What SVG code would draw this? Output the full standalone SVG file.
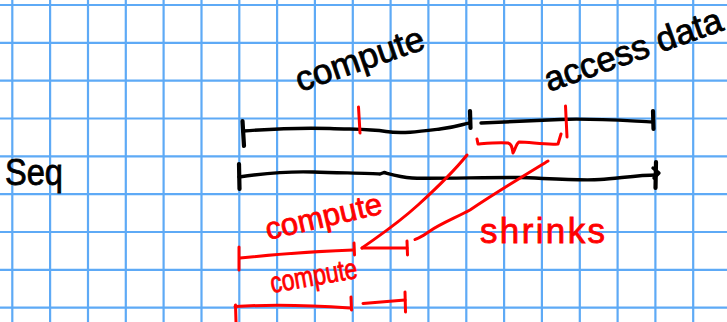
<svg xmlns="http://www.w3.org/2000/svg" width="727" height="322" viewBox="0 0 727 322">
<style>
.grid{stroke:#5eaaf6;stroke-width:2.2;fill:none}
.blk{stroke:#000;stroke-width:3.4;fill:none;stroke-linecap:round;stroke-linejoin:round}
.tick{stroke:#000;stroke-width:4.2;fill:none;stroke-linecap:round}
.red{stroke:#ff0000;stroke-width:3;fill:none;stroke-linecap:round;stroke-linejoin:round}
.tb{font-family:"Liberation Sans",Arial,sans-serif;fill:#000;stroke:#000;stroke-width:0.8}
.tr{font-family:"Liberation Sans",Arial,sans-serif;fill:#ff0000;stroke:#ff0000;stroke-width:0.8}
</style>
<rect width="727" height="322" fill="#fff"/>
<g id="grid">
<path class="grid" d="M12.3,0V322M50.1,0V322M88,0V322M125.8,0V322M163.6,0V322M201.5,0V322M239.3,0V322M277.1,0V322M314.9,0V322M352.8,0V322M390.6,0V322M428.4,0V322M466.3,0V322M504.1,0V322M541.9,0V322M579.8,0V322M617.6,0V322M655.4,0V322M693.2,0V322"/>
<path class="grid" d="M0,5H727M0,42.8H727M0,80.7H727M0,118.5H727M0,156.3H727M0,194.2H727M0,232H727M0,269.8H727M0,307.6H727"/>
</g>
<g id="seq">
<text class="tb" x="5" y="185" font-size="37" textLength="58" lengthAdjust="spacingAndGlyphs">Seq</text>
</g>
<g id="bar-top">
<path class="blk" d="M243,131 C270,129 300,127.5 330,128.5 S370,129 386,131.5 S420,131.5 440,129 S462,124 470,123"/>
<path class="tick" d="M242.5,121 L244,146"/>
<path class="tick" d="M470,111 L470.5,128"/>
<path class="blk" d="M481,123 C500,122 530,121 560,119.5 S630,121 653,122"/>
<path class="tick" d="M653,111 L653.5,129"/>
<text class="tb" x="300" y="92" font-size="35" transform="rotate(-19 300 92)">compute</text>
<text class="tb" x="549" y="92" font-size="35" transform="rotate(-19.5 549 92)">access data</text>
</g>
<g id="bar-middle">
<path class="blk" d="M239,177 C260,174 285,171 313,172 S370,173 380,174 L384,172.5 C390,174 400,177 412,178 S500,177 520,177.5 S580,181 600,179.5 S640,175 656,175"/>
<path class="tick" d="M239,164 L239.5,189"/>
<path class="tick" d="M656,162 L655.5,188"/>
<path class="blk" d="M653,168 L659,173 L654,178"/>
</g>
<g id="marks-red">
<path class="red" d="M358.5,107 L360,133"/>
<path class="red" d="M565.5,106 L567,137"/>
<path class="red" d="M477,139 L478,144 C490,143 500,142 508,143 C512,144 512,148 513,153 C515,150 516,144 519,142 C530,142 545,145 558,144 L561,134"/>
</g>
<g id="bar-red-1">
<path class="red" d="M240,258 C280,254 320,251 353,250"/>
<path class="red" d="M239,247 L239,270"/>
<path class="red" d="M354,243 L354.5,255"/>
<path class="red" d="M362,248 L407,248"/>
<path class="red" d="M407,241 L407.5,255"/>
<text class="tr" x="268" y="240" font-size="31" transform="rotate(-13 268 240)">compute</text>
</g>
<g id="bar-red-2">
<path class="red" d="M235,306.5 C260,305 300,304.5 350,308"/>
<path class="red" d="M235.5,305 L236,322"/>
<path class="red" d="M351,297 L351.5,310"/>
<path class="red" d="M363,303.5 L405,300"/>
<path class="red" d="M405,292 L405.5,312"/>
<text class="tr" x="272" y="293" font-size="29" textLength="88" lengthAdjust="spacingAndGlyphs" transform="rotate(-10 272 293)">compute</text>
</g>
<g id="connectors">
<path class="red" d="M467,155 C455,170 440,185 418,205 S380,235 362,248"/>
<path class="red" d="M548,161 C530,172 500,190 470,210 C455,218 440,224 430,231 S420,237 415,239.5"/>
</g>
<g id="shrinks">
<text class="tr" x="480" y="243" font-size="35" textLength="125" lengthAdjust="spacing">shrinks</text>
</g>
</svg>
